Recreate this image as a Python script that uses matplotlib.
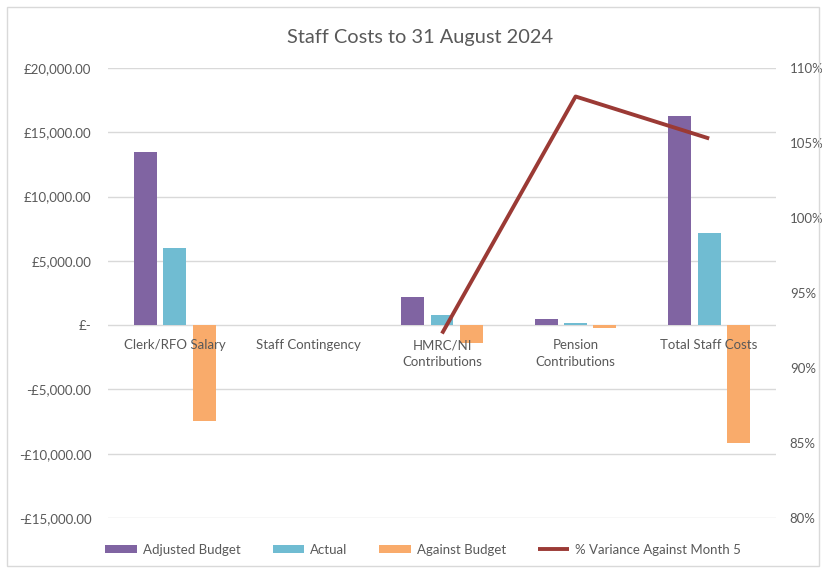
import numpy as np
import matplotlib.pyplot as plt
from matplotlib.ticker import FuncFormatter, MultipleLocator
from matplotlib.patches import Rectangle

plt.rcParams['font.family'] = ['Lato', 'DejaVu Sans']

categories = ["Clerk/RFO Salary", "Staff Contingency", "HMRC/NI\nContributions",
              "Pension\nContributions", "Total Staff Costs"]
adjusted_budget = [13450, 0, 2170, 450, 16270]
actual = [6000, 0, 810, 200, 7160]
against_budget = [-7450, 0, -1360, -250, -9150]
variance_pct = [np.nan, np.nan, 92.3, 108.1, 105.3]

purple = "#8064A2"
cyan = "#70BCD2"
orange = "#F9AB6B"
red = "#9B3A35"
grey_text = "#595959"
grid_col = "#D9D9D9"

fig = plt.figure(figsize=(8.22, 5.69), dpi=100)
fig.patches.append(Rectangle((0.008, 0.006), 0.988, 0.982, transform=fig.transFigure,
                             fill=False, edgecolor="#D9D9D9", linewidth=1.0))
ax = fig.add_axes([0.1314, 0.0896, 0.8126, 0.7909])

x = np.arange(len(categories))
w = 0.172
step = 0.22
ax.bar(x - step, adjusted_budget, w, color=purple, label="Adjusted Budget", zorder=2)
ax.bar(x, actual, w, color=cyan, label="Actual", zorder=2)
ax.bar(x + step, against_budget, w, color=orange, label="Against Budget", zorder=2)

ax.set_xlim(-0.5, len(categories) - 0.5)
ax.set_ylim(-15000, 20000)
ax.yaxis.set_major_locator(MultipleLocator(5000))


def money(v, pos):
    if v == 0:
        return "£-"
    s = f"£{abs(v):,.2f}"
    return "-" + s if v < 0 else s


ax.yaxis.set_major_formatter(FuncFormatter(money))
ax.grid(axis="y", color=grid_col, linewidth=1.0)
ax.yaxis.set_zorder(0.5)
ax.xaxis.set_zorder(3)
for s in ["top", "right", "left"]:
    ax.spines[s].set_visible(False)
ax.spines["bottom"].set_position(("data", 0))
ax.spines["bottom"].set_visible(False)
ax.set_xticks(x)
ax.set_xticklabels(categories, linespacing=1.45)
ax.tick_params(axis="x", length=0, pad=10, labelsize=9.5, labelcolor=grey_text)
ax.tick_params(axis="y", length=0, pad=12, labelsize=9.5, labelcolor=grey_text)

ax2 = ax.twinx()
ax2.plot(x, variance_pct, color=red, linewidth=2.8, label="% Variance Against Month 5",
         solid_capstyle="butt")
ax2.set_ylim(80, 110)
ax2.yaxis.set_major_locator(MultipleLocator(5))
ax2.yaxis.set_major_formatter(FuncFormatter(lambda v, p: f"{v:.0f}%"))
ax2.tick_params(axis="y", length=0, pad=10, labelsize=9.5, labelcolor=grey_text)
for s in ax2.spines.values():
    s.set_visible(False)

fig.text(0.511, 0.934, "Staff Costs to 31 August 2024", ha="center", va="center",
         fontsize=14.4, color=grey_text)

h1, l1 = ax.get_legend_handles_labels()
h2, l2 = ax2.get_legend_handles_labels()
fig.legend(h1 + h2, l1 + l2, loc="center", bbox_to_anchor=(0.515, 0.034), ncol=4,
           frameon=False, fontsize=9.5, labelcolor=grey_text, handlelength=2.4,
           handleheight=0.55, columnspacing=2.4, handletextpad=0.45)

fig.savefig("out.png", dpi=100)
